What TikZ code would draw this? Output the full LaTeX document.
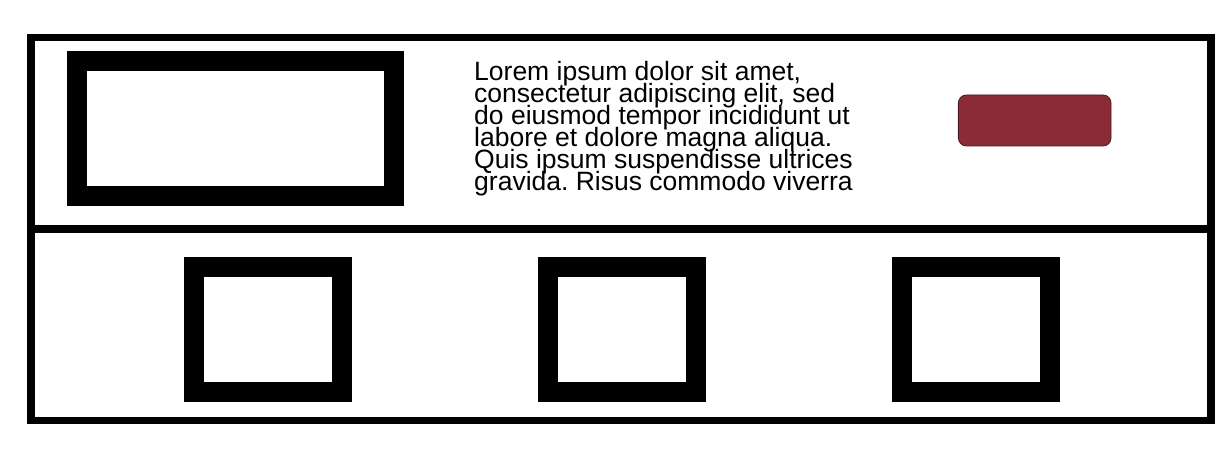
\documentclass[tikz,border=0pt]{standalone}
\usepackage{fontspec}
\newfontfamily\loremfont{Liberation Sans}
\usetikzlibrary{calc}
\definecolor{btnred}{HTML}{8A2B36}
\definecolor{btnline}{HTML}{4A1A20}
\tikzset{frm/.style={draw, line width=7.7pt, minimum width=1180pt, minimum height=383pt},
  pnl/.style={draw, line width=20pt, minimum width=317pt, minimum height=135pt},
  sq/.style={draw, line width=20pt, minimum width=148pt, minimum height=125.5pt},
  btn/.style={draw=btnline, line width=0.8pt, fill=btnred, rounded corners=8pt,
    minimum width=152.7pt, minimum height=51pt}}
\frenchspacing

\begin{document}
\begin{tikzpicture}[x=1pt, y=1pt, inner sep=0pt]
  \useasboundingbox (0,0) rectangle (1230,452);
  \node[frm] (frame) at (621,223) {};
  \draw[line width=7.7pt] (frame.west) -- (frame.east);
  \node[pnl] (img) at (235.5,323.5) {};
  \node[anchor=north west, align=left,
    font={\loremfont\fontsize{26.5}{22}\selectfont\lineskiplimit=-30pt}] (txt) at (474,391)
    {Lorem ipsum dolor sit amet,\\consectetur adipiscing elit, sed\\do eiusmod tempor incididunt ut\\labore et dolore magna aliqua.\\Quis ipsum suspendisse ultrices\\gravida. Risus commodo viverra};
  \node[btn] (go) at (1034.7,331.5) {};
  \node[sq] (sqa) at (268,122.25) {};
  \node[sq] (sqb) at (621.5,122.25) {};
  \node[sq] (sqc) at (975.5,122.25) {};
\end{tikzpicture}
\end{document}
